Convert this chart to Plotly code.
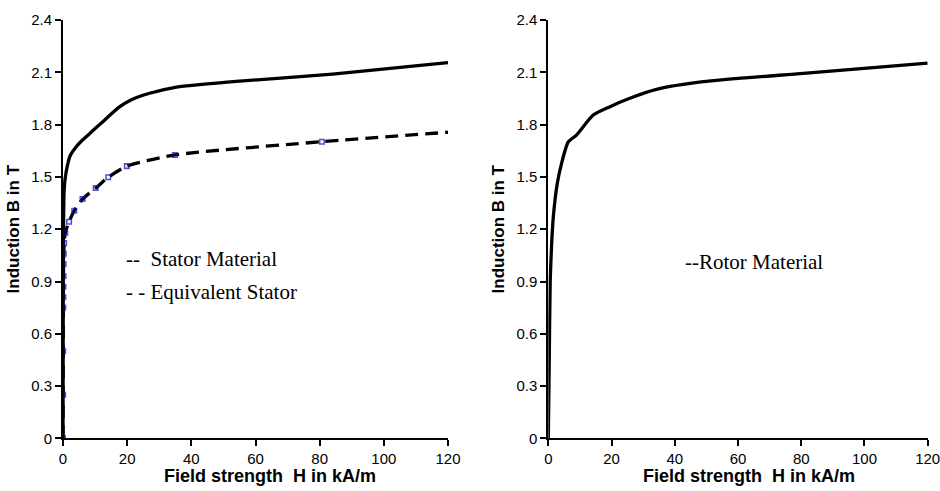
import plotly.graph_objects as go

# ---- data (H in kA/m, B in T) ----
stator_H = [0, 0.05, 0.1, 0.2, 0.35, 0.6, 1.2, 2.2, 4.0, 6.0, 9.0, 12.0, 17.5, 21, 27, 35, 53, 84, 120]
stator_B = [0, 0.55, 1.0, 1.28, 1.42, 1.48, 1.55, 1.62, 1.67, 1.71, 1.76, 1.81, 1.90, 1.94, 1.98, 2.014, 2.046, 2.09, 2.155]

eq_H = [0, 0.03, 0.06, 0.09, 0.11, 0.13, 0.15, 0.18, 0.22, 0.35, 0.7, 1.9, 3.5, 6.1, 10.2, 14.1, 19.9, 34.9, 80.7, 120]
eq_B = [0, 0.25, 0.5, 0.75, 0.81, 0.87, 0.93, 1.0, 1.06, 1.12, 1.18, 1.243, 1.306, 1.373, 1.436, 1.498, 1.562, 1.626, 1.702, 1.756]

rotor_H = [0, 0.3, 0.6, 1.07, 1.58, 2.85, 4.2, 6.3, 8.9, 14.2, 19.5, 25.8, 34.2, 49, 80.7, 120]
rotor_B = [0, 0.45, 0.9, 1.12, 1.27, 1.463, 1.578, 1.70, 1.74, 1.855, 1.903, 1.951, 2.002, 2.046, 2.094, 2.152]

x_ticks = [0, 20, 40, 60, 80, 100, 120]
y_ticks = [0, 0.3, 0.6, 0.9, 1.2, 1.5, 1.8, 2.1, 2.4]
y_ticktext = ["0", "0.3", "0.6", "0.9", "1.2", "1.5", "1.8", "2.1", "2.4"]

x_title = "Field strength  H in kA/m"
y_title = "Induction B in T"
legend_left = ["--  Stator Material", "- - Equivalent Stator"]
legend_right = "--Rotor Material"

W, Hpx = 940, 491
SANS = "Liberation Sans, Arial, sans-serif"
SERIF = "Liberation Serif, Times New Roman, serif"

fig = go.Figure()

# left panel
fig.add_trace(go.Scatter(x=stator_H, y=stator_B, mode="lines", name="Stator Material",
                         line=dict(color="black", width=3.3, shape="spline", smoothing=0.6),
                         xaxis="x", yaxis="y", showlegend=False))
marker_sizes = [4.5] * (len(eq_H) - 1) + [0]
fig.add_trace(go.Scatter(x=eq_H, y=eq_B, mode="lines+markers", name="Equivalent Stator",
                         line=dict(color="black", width=3.3, dash="13px,7px", shape="spline", smoothing=0.6),
                         marker=dict(symbol="square-open", size=marker_sizes, color="#0c0cb4",
                                     line=dict(width=1.6, color="#0c0cb4")),
                         xaxis="x", yaxis="y", showlegend=False))
# right panel
fig.add_trace(go.Scatter(x=rotor_H, y=rotor_B, mode="lines", name="Rotor Material",
                         line=dict(color="black", width=3.3, shape="spline", smoothing=0.6),
                         xaxis="x2", yaxis="y2", showlegend=False))

ydom = [1 - 438.4 / Hpx, 1 - 20 / Hpx]
axis_common = dict(showline=True, linecolor="black", linewidth=2, ticks="outside", ticklen=6,
                   tickwidth=1.5, tickcolor="black", showgrid=False, zeroline=False,
                   ticklabeloverflow="allow",
                   tickfont=dict(family=SANS, size=15, color="black"), automargin=False)

xa = dict(axis_common, range=[0, 120], tickvals=x_ticks)
ya = dict(axis_common, range=[0, 2.4], tickvals=y_ticks, ticktext=y_ticktext,
          title=dict(text="<b>" + y_title + "</b>", font=dict(family=SANS, size=17, color="black"), standoff=7))

title_font = dict(family=SANS, size=18, color="black")
legend_font = dict(family=SERIF, size=21, color="black")

fig.update_layout(
    width=W, height=Hpx,
    margin=dict(l=0, r=0, t=0, b=0),
    paper_bgcolor="white", plot_bgcolor="white",
    xaxis=dict(xa, domain=[63 / W, 448 / W], anchor="y"),
    yaxis=dict(ya, domain=ydom, anchor="x"),
    xaxis2=dict(xa, domain=[548.3 / W, 927.7 / W], anchor="y2"),
    yaxis2=dict(ya, domain=ydom, anchor="x2"),
    annotations=[
        dict(x=270 / W, y=1 - 476 / Hpx, xref="paper", yref="paper", xanchor="center", yanchor="middle",
             text="<b>" + x_title + "</b>", showarrow=False, font=title_font),
        dict(x=749 / W, y=1 - 476 / Hpx, xref="paper", yref="paper", xanchor="center", yanchor="middle",
             text="<b>" + x_title + "</b>", showarrow=False, font=title_font),
        dict(x=124 / W, y=1 - 259 / Hpx, xref="paper", yref="paper", xanchor="left", yanchor="middle",
             text=legend_left[0], showarrow=False, font=legend_font),
        dict(x=124 / W, y=1 - 292 / Hpx, xref="paper", yref="paper", xanchor="left", yanchor="middle",
             text=legend_left[1], showarrow=False, font=legend_font),
        dict(x=683 / W, y=1 - 262 / Hpx, xref="paper", yref="paper", xanchor="left", yanchor="middle",
             text=legend_right, showarrow=False, font=legend_font),
    ],
)

fig.write_html("out.html")
